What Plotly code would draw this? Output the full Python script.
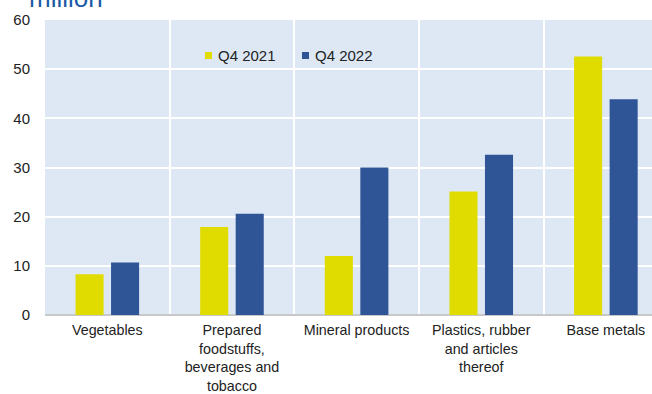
import plotly.graph_objects as go

categories = ["Vegetables", "Prepared<br>foodstuffs,<br>beverages and<br>tobacco", "Mineral products",
              "Plastics, rubber<br>and articles<br>thereof", "Base metals"]
q4_2021 = [8.3, 17.9, 12.0, 25.1, 52.6]
q4_2022 = [10.7, 20.6, 30.0, 32.6, 43.9]
y_ticks = [0, 10, 20, 30, 40, 50, 60]
series_names = ["Q4 2021", "Q4 2022"]
series_colors = ["#e1dc00", "#2f5597"]

FONT = "Liberation Sans, Arial, sans-serif"

fig = go.Figure()
for name, vals, col in zip(series_names, [q4_2021, q4_2022], series_colors):
    fig.add_trace(go.Bar(x=categories, y=vals, name=name, marker=dict(color=col, line_width=0),
                         showlegend=False))

fig.update_layout(
    width=652, height=394,
    margin=dict(l=45, r=0, t=20, b=79),
    paper_bgcolor="white", plot_bgcolor="#dde8f4",
    barmode="group", bargap=0.43, bargroupgap=0.21,
    font=dict(family=FONT, size=15, color="#222222"),
    showlegend=False,
)
fig.update_xaxes(type="category", range=[-0.5, 4.37], tickson="boundaries", showgrid=True,
                 gridcolor="white", gridwidth=2, ticks="", tickfont=dict(size=14.3),
                 showline=False, ticklabelstandoff=5, automargin=False)
fig.update_yaxes(range=[0, 60], tickvals=y_ticks, showgrid=True, gridcolor="white", gridwidth=2,
                 zeroline=True, zerolinecolor="#c8c8c8", zerolinewidth=2,
                 tickfont=dict(size=15), ticklabelstandoff=14, automargin=False)

# custom legend (small squares close to text)
leg_x = [205, 302]  # pixel positions of the legend squares
for lx, name, col in zip(leg_x, series_names, series_colors):
    fig.add_shape(type="rect", xref="paper", yref="paper",
                  x0=(lx - 45) / 607, x1=(lx + 7 - 45) / 607,
                  y0=(315 - 59) / 295, y1=(315 - 52) / 295,
                  fillcolor=col, line_width=0)
    fig.add_annotation(text=name, xref="paper", yref="paper", x=(lx + 11 - 45) / 607,
                       y=(315 - 55.5) / 295, xanchor="left", yanchor="middle", showarrow=False,
                       font=dict(size=15, color="#222222"))

fig.add_annotation(text="million", xref="paper", yref="paper", x=(27 - 45) / 607, y=1.0,
                   xanchor="left", yanchor="bottom", yshift=5, showarrow=False,
                   font=dict(size=26, color="#1c5aa6"))
fig.write_html("out.html")
